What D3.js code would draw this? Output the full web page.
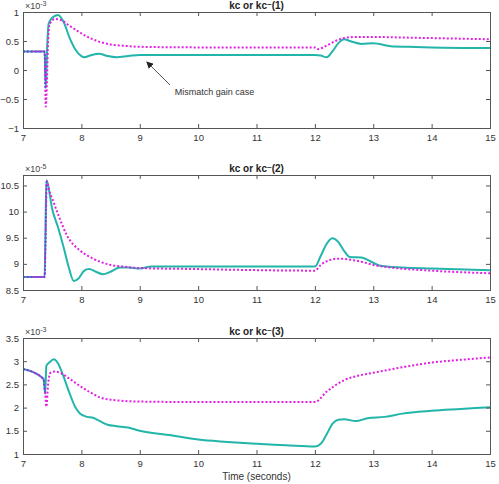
<!DOCTYPE html>
<html><head><meta charset="utf-8">
<script src="https://cdn.jsdelivr.net/npm/d3@7"></script>
<style>body{margin:0;background:#fff}svg{display:block;font-family:"Liberation Sans",Arial,sans-serif}</style>
</head><body>
<script>
// ---- data ----
const xTicks = [7, 8, 9, 10, 11, 12, 13, 14, 15];
const titles = ["kc or kc", "kc or kc", "kc or kc"];
const titleIdx = ["(1)", "(2)", "(3)"];
const exponents = ["-3", "-5", "-3"];
const yDomains = [[-1, 1], [8.5, 10.7], [1, 3.5]];
const yTicks = [[-1, -0.5, 0, 0.5, 1], [8.5, 9, 9.5, 10, 10.5], [1, 1.5, 2, 2.5, 3, 3.5]];

const teal1T = [7, 7.37, 7.39, 7.41, 7.44, 7.5, 7.6, 7.7, 7.8, 7.9, 8.0, 8.05, 8.15, 8.3, 8.45, 8.6, 8.8, 9.0, 10, 11, 12.0, 12.1, 12.2, 12.3, 12.4, 12.5, 12.6, 12.8, 13.0, 13.3, 13.6, 14, 15];
const teal1V = [0.32, 0.32, -0.31, 0.3, 0.8, 0.9, 0.95, 0.82, 0.55, 0.35, 0.24, 0.22, 0.25, 0.28, 0.24, 0.22, 0.24, 0.26, 0.26, 0.26, 0.26, 0.25, 0.22, 0.32, 0.46, 0.53, 0.5, 0.45, 0.46, 0.41, 0.40, 0.39, 0.38];
const mag1T = [7, 7.37, 7.39, 7.41, 7.43, 7.46, 7.55, 7.65, 7.8, 8.0, 8.15, 8.3, 8.5, 8.7, 9.0, 10, 11, 12.0, 12.05, 12.2, 12.35, 12.5, 12.7, 13.0, 13.5, 14, 15];
const mag1V = [0.32, 0.32, -0.63, -0.2, 0.5, 0.8, 0.88, 0.86, 0.76, 0.63, 0.55, 0.49, 0.44, 0.42, 0.40, 0.39, 0.39, 0.39, 0.36, 0.42, 0.5, 0.55, 0.57, 0.57, 0.56, 0.55, 0.53];
const blue1T = [7, 7.37, 7.385];
const blue1V = [0.32, 0.32, -0.3];

const teal2T = [7, 7.37, 7.40, 7.42, 7.5, 7.6, 7.7, 7.78, 7.87, 7.95, 8.05, 8.13, 8.25, 8.37, 8.5, 8.66, 8.8, 9.0, 9.2, 10, 11, 12.0, 12.1, 12.2, 12.3, 12.4, 12.5, 12.6, 12.8, 12.95, 13.1, 13.5, 14, 15];
const teal2V = [8.75, 8.75, 10.6, 10.55, 10.05, 9.7, 9.3, 8.95, 8.67, 8.72, 8.87, 8.9, 8.85, 8.8, 8.85, 8.93, 8.93, 8.91, 8.95, 8.95, 8.95, 8.95, 9.15, 9.38, 9.49, 9.42, 9.25, 9.13, 9.12, 9.05, 8.97, 8.93, 8.91, 8.88];
const mag2T = [7, 7.37, 7.41, 7.45, 7.5, 7.6, 7.75, 7.97, 8.15, 8.32, 8.5, 8.7, 9.0, 10, 11, 12.0, 12.1, 12.25, 12.4, 12.6, 12.8, 13.0, 13.3, 14, 15];
const mag2V = [8.75, 8.75, 10.58, 10.4, 10.25, 9.95, 9.55, 9.26, 9.13, 9.04, 8.98, 8.95, 8.92, 8.9, 8.88, 8.87, 8.98, 9.07, 9.1, 9.08, 9.04, 8.98, 8.93, 8.87, 8.82];
const blue2T = [7, 7.37, 7.40];
const blue2V = [8.75, 8.75, 10.58];

const teal3T = [7, 7.35, 7.38, 7.40, 7.45, 7.53, 7.6, 7.7, 7.8, 7.9, 7.97, 8.1, 8.2, 8.3, 8.45, 8.6, 8.8, 9.0, 9.5, 10, 10.5, 11, 11.5, 12.0, 12.1, 12.2, 12.3, 12.4, 12.5, 12.7, 12.9, 13.2, 13.5, 14, 14.5, 15];
const teal3V = [2.83, 2.62, 2.3, 2.9, 2.97, 3.04, 2.95, 2.65, 2.3, 2.0, 1.88, 1.8, 1.78, 1.72, 1.63, 1.6, 1.57, 1.5, 1.41, 1.31, 1.26, 1.22, 1.19, 1.16, 1.22, 1.42, 1.65, 1.74, 1.75, 1.71, 1.77, 1.8, 1.87, 1.93, 1.97, 2.01];
const mag3T = [7, 7.35, 7.38, 7.40, 7.43, 7.47, 7.55, 7.65, 7.8, 7.97, 8.15, 8.32, 8.5, 8.66, 9.0, 10, 11, 12.0, 12.2, 12.5, 12.75, 13.0, 13.5, 14, 14.5, 15];
const mag3V = [2.83, 2.62, 2.3, 2.02, 2.5, 2.75, 2.78, 2.74, 2.62, 2.47, 2.33, 2.22, 2.17, 2.15, 2.13, 2.12, 2.12, 2.12, 2.34, 2.59, 2.69, 2.75, 2.87, 2.97, 3.03, 3.08];
const blue3T = [7, 7.35, 7.38];
const blue3V = [2.83, 2.62, 2.3];

const annotation = "Mismatch gain case";
const xLabel = "Time (seconds)";

// ---- layout ----
const W = 499, H = 484;
const panels = [
  {top: 12, bottom: 128, teal: [teal1T, teal1V], mag: [mag1T, mag1V], blue: [blue1T, blue1V]},
  {top: 175, bottom: 290, teal: [teal2T, teal2V], mag: [mag2T, mag2V], blue: [blue2T, blue2V]},
  {top: 338, bottom: 454, teal: [teal3T, teal3V], mag: [mag3T, mag3V], blue: [blue3T, blue3V]}
];
const L = 23, R = 490;
const svg = d3.select("body").append("svg").attr("width", W).attr("height", H);
const x = d3.scaleLinear().domain([7, 15]).range([L, R]);
const axisCol = "#555", textCol = "#333";

panels.forEach((p, i) => {
  const y = d3.scaleLinear().domain(yDomains[i]).range([p.bottom, p.top]);
  const g = svg.append("g");
  const clipId = "clip" + i;
  svg.append("clipPath").attr("id", clipId).append("rect")
    .attr("x", L).attr("y", p.top - 2).attr("width", R - L).attr("height", p.bottom - p.top + 4);

  const lineGen = d3.line().x(d => x(d[0])).y(d => y(d[1])).curve(d3.curveMonotoneX);
  const toPts = s => s[0].map((t, k) => [t, s[1][k]]);
  const lg = g.append("g").attr("clip-path", `url(#${clipId})`);
  lg.append("path").attr("d", lineGen(toPts(p.teal))).attr("fill", "none")
    .attr("stroke", "#22b5aa").attr("stroke-width", 2);
  lg.append("path").attr("d", lineGen(toPts(p.mag))).attr("fill", "none")
    .attr("stroke", "#e41ee4").attr("stroke-width", 2).attr("stroke-dasharray", "2,2");
  lg.append("path").attr("d", lineGen(toPts(p.blue))).attr("fill", "none")
    .attr("stroke", "#4b52d6").attr("stroke-width", 1.4).attr("stroke-dasharray", "2,1.5");

  // axes
  const fmt = d3.format("~g");
  const xb = g.append("g").attr("transform", `translate(0,${p.bottom})`)
    .call(d3.axisBottom(x).tickValues(xTicks).tickSize(-4).tickPadding(6).tickFormat(fmt));
  const xt = g.append("g").attr("transform", `translate(0,${p.top})`)
    .call(d3.axisTop(x).tickValues(xTicks).tickSize(-4).tickFormat(""));
  const yl = g.append("g").attr("transform", `translate(${L},0)`)
    .call(d3.axisLeft(y).tickValues(yTicks[i]).tickSize(-4).tickPadding(4).tickFormat(fmt));
  const yr = g.append("g").attr("transform", `translate(${R},0)`)
    .call(d3.axisRight(y).tickValues(yTicks[i]).tickSize(-4).tickFormat(""));
  [xb, xt, yl, yr].forEach(a => {
    a.select(".domain").attr("stroke", axisCol);
    a.selectAll(".tick line").attr("stroke", axisCol);
    a.selectAll("text").attr("fill", textCol).attr("font-size", 9.5)
      .attr("font-family", "'Liberation Sans', Arial, sans-serif");
  });

  // title
  const tt = svg.append("text").attr("x", (L + R) / 2).attr("y", p.top - 3)
    .attr("text-anchor", "middle").attr("font-size", 10).attr("font-weight", "bold").attr("fill", "#222");
  tt.append("tspan").text(titles[i]);
  tt.append("tspan").attr("dy", -2).attr("font-size", 8).text("~");
  tt.append("tspan").attr("dy", 2).text(titleIdx[i]);

  // exponent
  const ex = svg.append("text").attr("x", L + 2).attr("y", p.top - 3)
    .attr("font-size", 9).attr("fill", "#444");
  ex.append("tspan").text("\u00d710");
  ex.append("tspan").attr("dy", -3).attr("font-size", 7).text(exponents[i]);
});

// annotation in panel 1
const y1 = d3.scaleLinear().domain(yDomains[0]).range([panels[0].bottom, panels[0].top]);
svg.append("defs").append("marker").attr("id", "arr").attr("viewBox", "0 0 10 10")
  .attr("refX", 9).attr("refY", 5).attr("markerWidth", 7).attr("markerHeight", 7)
  .attr("orient", "auto").append("path").attr("d", "M0,0L10,5L0,10z").attr("fill", "#222");
svg.append("line").attr("x1", x(9.52)).attr("y1", y1(-0.26)).attr("x2", x(9.12)).attr("y2", y1(0.14))
  .attr("stroke", "#555").attr("stroke-width", 1).attr("marker-end", "url(#arr)");
svg.append("text").attr("x", x(9.6)).attr("y", y1(-0.43)).attr("font-size", 9).attr("fill", "#333")
  .text(annotation);

svg.append("text").attr("x", (L + R) / 2).attr("y", 480).attr("text-anchor", "middle")
  .attr("font-size", 10).attr("fill", "#333").text(xLabel);
</script>
</body></html>
